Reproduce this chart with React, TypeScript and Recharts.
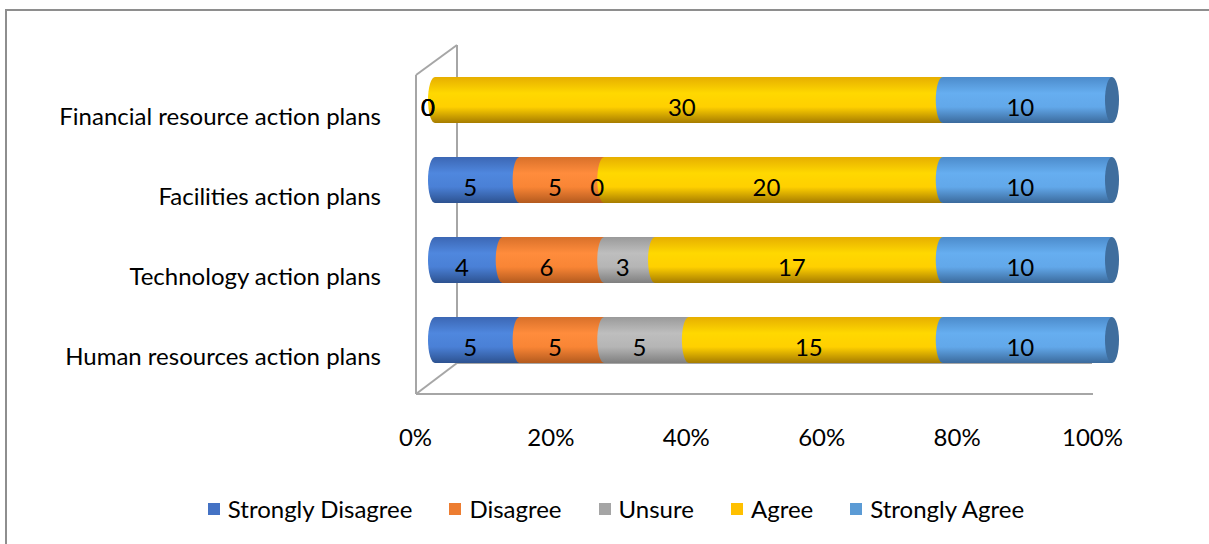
import React from 'react';
import { BarChart, Bar, XAxis, YAxis, LabelList, Legend, Customized } from 'recharts';

const categories = [
  'Financial resource action plans',
  'Facilities action plans',
  'Technology action plans',
  'Human resources action plans',
];
const stronglyDisagree = [0, 5, 4, 5];
const disagree = [0, 5, 6, 5];
const unsure = [0, 0, 3, 5];
const agree = [30, 20, 17, 15];
const stronglyAgree = [10, 10, 10, 10];
const xTicks = [0, 0.2, 0.4, 0.6, 0.8, 1];

const seriesNames = ['Strongly Disagree', 'Disagree', 'Unsure', 'Agree', 'Strongly Agree'];
const seriesKeys = ['sd', 'd', 'u', 'a', 'sa'];
const flatColors = ['#4472C4', '#ED7D31', '#A5A5A5', '#FFC000', '#5B9BD5'];
const gradStops = [
  ['#3C67B4', '#4F87DE', '#4A80D6', '#2D5290'],
  ['#D8702A', '#FF8C3C', '#F98535', '#B35A1E'],
  ['#9A9A9A', '#BEBEBE', '#B5B5B5', '#7F7F7F'],
  ['#E6AE00', '#FFD800', '#FFD000', '#A67C00'],
  ['#4C8BCB', '#66AEF0', '#62A8EA', '#3B6A9C'],
];
const capColor = '#3F6E9E';

const data = categories.map((name, i) => ({
  name,
  sd: stronglyDisagree[i],
  d: disagree[i],
  u: unsure[i],
  a: agree[i],
  sa: stronglyAgree[i],
}));

const W = 1200;
const H = 533;
const PL = 428;
const PR = 1105;
const PT = 49;
const PB = 369;
const FONT = 'Lato, "Noto Sans", sans-serif';
const FS = 24;
const RX = 7;

const makeShape = (idx: number, last: boolean) => (props: any) => {
  const { x, y, width, height } = props;
  if (!width || width <= 0) return <g />;
  const ry = height / 2;
  const d = `M${x},${y} L${x + width},${y} L${x + width},${y + height} L${x},${y + height} A${RX},${ry} 0 0 1 ${x},${y} Z`;
  return (
    <g>
      <path d={d} fill={`url(#grad${idx})`} />
      {last && <ellipse cx={x + width} cy={y + ry} rx={RX} ry={ry} fill={capColor} />}
    </g>
  );
};

const renderLabel = (props: any) => {
  const { x, y, width, height, value } = props;
  return (
    <text x={x + width / 2 - 7} y={y + height / 2 + 16} textAnchor="middle" fontSize={FS} fill="#000" fontFamily={FONT}>
      {value}
    </text>
  );
};

const YTick = (props: any) => {
  const { y, payload } = props;
  return (
    <text x={PL - 54} y={y + 25} textAnchor="end" fontSize={FS} fill="#000" fontFamily={FONT}>
      {payload.value}
    </text>
  );
};

const XTick = (props: any) => {
  const { x, payload } = props;
  return (
    <text x={x - 19.5} y={PB + 66} textAnchor="middle" fontSize={FS} fill="#000" fontFamily={FONT}>
      {`${Math.round(payload.value * 100)}%`}
    </text>
  );
};

const Frame = () => {
  const fx = PL - 19;
  const ft = PT + 15;
  const fb = PB + 14;
  const bx = PL + 22;
  const bt = PT - 15;
  const bb = PB - 17;
  const fr = PR - 19;
  const s = { stroke: '#A6A6A6', strokeWidth: 2, fill: 'none' };
  return (
    <g>
      <line x1={bx} y1={bt} x2={bx} y2={bb} {...s} />
      <line x1={fx} y1={ft} x2={bx} y2={bt} {...s} />
      <line x1={fx} y1={ft} x2={fx} y2={fb} {...s} />
      <line x1={fx} y1={fb} x2={bx} y2={bb} {...s} />
      <line x1={bx} y1={bb} x2={PR - 20} y2={bb} {...s} />
      <line x1={fx} y1={fb} x2={fr} y2={fb} {...s} />
    </g>
  );
};

const LegendContent = () => (
  <div style={{ display: 'flex', justifyContent: 'center', alignItems: 'center', paddingLeft: 18, fontFamily: FONT, fontSize: FS, color: '#000' }}>
    {seriesNames.map((n, i) => (
      <div key={n} style={{ display: 'flex', alignItems: 'center', marginRight: i < seriesNames.length - 1 ? 37 : 0 }}>
        <div style={{ width: 12, height: 12, background: flatColors[i], marginRight: 8 }} />
        <span>{n}</span>
      </div>
    ))}
  </div>
);

export default function App() {
  return (
    <div style={{ position: 'absolute', left: 5, top: 9, width: 1210, height: 545, border: '2px solid #8E8E8E', background: '#fff' }}>
      <BarChart
        width={W}
        height={H}
        data={data}
        layout="vertical"
        stackOffset="expand"
        barSize={46}
        margin={{ top: PT, right: W - PR, left: 0, bottom: H - PB - 30 }}
      >
        <defs>
          {gradStops.map((st, i) => (
            <linearGradient key={i} id={`grad${i}`} x1="0" y1="0" x2="0" y2="1">
              <stop offset="0%" stopColor={st[0]} />
              <stop offset="35%" stopColor={st[1]} />
              <stop offset="65%" stopColor={st[2]} />
              <stop offset="100%" stopColor={st[3]} />
            </linearGradient>
          ))}
        </defs>
        <Customized component={<Frame />} />
        <XAxis type="number" domain={[0, 1]} ticks={xTicks} axisLine={false} tickLine={false} tick={<XTick />} height={30} />
        <YAxis type="category" dataKey="name" axisLine={false} tickLine={false} tick={<YTick />} width={PL} />
        {seriesKeys.map((k, i) => (
          <Bar key={k} dataKey={k} name={seriesNames[i]} stackId="s" fill={flatColors[i]} shape={makeShape(i, i === seriesKeys.length - 1)} isAnimationActive={false}>
            <LabelList dataKey={k} content={renderLabel} />
          </Bar>
        ))}
        <Legend verticalAlign="middle" layout="horizontal" content={<LegendContent />} wrapperStyle={{ position: 'absolute', top: 483, left: 0, width: W }} />
      </BarChart>
    </div>
  );
}
